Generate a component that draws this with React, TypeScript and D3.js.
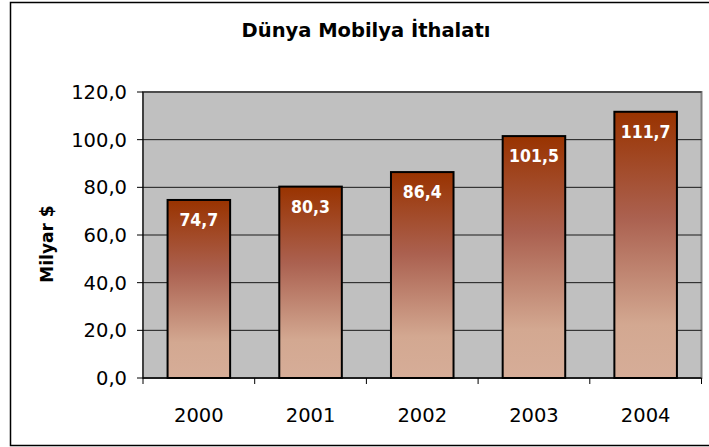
import React from "react";
import * as d3 from "d3";

const years = ["2000", "2001", "2002", "2003", "2004"];
const values = [74.7, 80.3, 86.4, 101.5, 111.7];
const yTicks = [0, 20, 40, 60, 80, 100, 120];

const fmt = (v: number) => v.toFixed(1).replace(".", ",");

export default function App() {
  const width = 709;
  const height = 447;
  const plot = { left: 143, top: 92, right: 701.5, bottom: 378 };

  const x = d3
    .scaleBand()
    .domain(years)
    .range([plot.left, plot.right])
    .paddingInner(0.44)
    .paddingOuter(0.22);
  const band = (plot.right - plot.left) / years.length;

  const y = d3.scaleLinear().domain([0, 120]).range([plot.bottom, plot.top]);

  return (
    <svg
      width={width}
      height={height}
      style={{ position: "absolute", left: 0, top: 0 }}
      fontFamily="DejaVu Sans, Verdana, sans-serif"
    >
      <defs>
        <linearGradient id="barGrad" x1="0" y1="0" x2="0" y2="1">
          <stop offset="0" stopColor="#993300" />
          <stop offset="0.4" stopColor="#ab6150" />
          <stop offset="0.8" stopColor="#d3a891" />
          <stop offset="1" stopColor="#d6ad98" />
        </linearGradient>
      </defs>
      <rect x={0} y={0} width={width} height={height} fill="#fff" />
      <rect x={10.5} y={2.5} width={720} height={443} fill="#fff" stroke="#000" strokeWidth={1.5} />

      <text
        x={366}
        y={37}
        textAnchor="middle"
        fontWeight="bold"
        fontSize={19.5}
        fill="#000"
      >
        Dünya Mobilya İthalatı
      </text>

      {/* plot area */}
      <rect
        x={plot.left}
        y={plot.top}
        width={plot.right - plot.left}
        height={plot.bottom - plot.top}
        fill="#c0c0c0"
        stroke="#808080"
        strokeWidth={2}
      />
      {yTicks.slice(1).map((t) => (
        <line key={t} x1={plot.left} x2={plot.right} y1={y(t)} y2={y(t)} stroke="#1a1a1a" strokeWidth={1} />
      ))}

      {/* bars */}
      {years.map((yr, i) => (
        <g key={yr}>
          <rect
            x={x(yr)}
            y={y(values[i])}
            width={x.bandwidth()}
            height={y(0) - y(values[i])}
            fill="url(#barGrad)"
            stroke="#000"
            strokeWidth={2}
          />
          <text
            x={(x(yr) as number) + x.bandwidth() / 2}
            y={y(values[i]) + 26}
            textAnchor="middle"
            fontWeight="bold"
            fontSize={17.5}
            style={{ fontStretch: "condensed" }}
            fill="#fff"
          >
            {fmt(values[i])}
          </text>
        </g>
      ))}

      {/* y axis */}
      <line x1={plot.left} x2={plot.left} y1={plot.top} y2={plot.bottom} stroke="#000" strokeWidth={1} />
      {yTicks.map((t) => (
        <g key={t}>
          <line x1={plot.left - 6} x2={plot.left} y1={y(t)} y2={y(t)} stroke="#000" strokeWidth={1} />
          <text x={plot.left - 16} y={y(t) + 7} textAnchor="end" fontSize={19.5} fill="#000">
            {fmt(t)}
          </text>
        </g>
      ))}

      {/* x axis */}
      <line x1={plot.left} x2={plot.right} y1={plot.bottom} y2={plot.bottom} stroke="#000" strokeWidth={1.5} />
      {d3.range(years.length + 1).map((i) => (
        <line
          key={i}
          x1={plot.left + i * band}
          x2={plot.left + i * band}
          y1={plot.bottom}
          y2={plot.bottom + 6}
          stroke="#000"
          strokeWidth={1}
        />
      ))}
      {years.map((yr) => (
        <text
          key={yr}
          x={(x(yr) as number) + x.bandwidth() / 2}
          y={422}
          textAnchor="middle"
          fontSize={19.5}
          fill="#000"
        >
          {yr}
        </text>
      ))}

      <text
        transform="translate(53,244) rotate(-90)"
        textAnchor="middle"
        fontWeight="bold"
        fontSize={17}
        fill="#000"
      >
        Milyar $
      </text>
    </svg>
  );
}
